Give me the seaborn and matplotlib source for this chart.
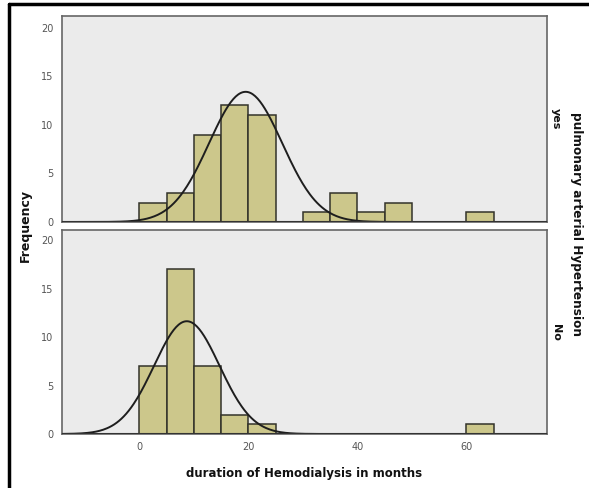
import numpy as np
import pandas as pd
import matplotlib
matplotlib.use("Agg")
import matplotlib.pyplot as plt
import seaborn as sns

# === DATI ===
bin_start = list(range(0, 65, 5))  # inizio di ogni classe (larghezza 5 mesi)
counts_yes = [2, 3, 9, 12, 11, 0, 1, 3, 1, 2, 0, 0, 1]
counts_no = [7, 17, 7, 2, 1, 0, 0, 0, 0, 0, 0, 0, 1]
groups = ["yes", "No"]

# parametri della curva normale (stimati dal grafico)
mean_yes, sd_yes = 19.5, 6.7
mean_no, sd_no = 8.7, 6.0

x_ticks = [0, 20, 40, 60]
y_ticks = [0, 5, 10, 15, 20]

BAR_COLOR = "#CCC78B"
BG_COLOR = "#EBEBEB"
EDGE = "#33332a"
BINW = 5

sns.set_style("white")
plt.rcParams["font.family"] = ["DejaVu Sans"]

fig = plt.figure(figsize=(5.89, 4.88), dpi=100)
ax_top = fig.add_axes([62 / 589, 1 - 222 / 488, 485 / 589, 206 / 488])
ax_bot = fig.add_axes([62 / 589, 1 - 434 / 488, 485 / 589, 204 / 488])

panels = [
    (ax_top, counts_yes, mean_yes, sd_yes, groups[0]),
    (ax_bot, counts_no, mean_no, sd_no, groups[1]),
]

for ax, counts, mu, sd, label in panels:
    df = pd.DataFrame({"mid": np.array(bin_start) + BINW / 2, "n": counts})
    sns.histplot(data=df, x="mid", weights="n", binwidth=BINW,
                 binrange=(0, bin_start[-1] + BINW), color=BAR_COLOR,
                 edgecolor=EDGE, linewidth=1.1, alpha=1.0, ax=ax)
    n = sum(counts)
    xs = np.linspace(-14, 75, 400)
    ys = n * BINW * np.exp(-0.5 * ((xs - mu) / sd) ** 2) / (sd * np.sqrt(2 * np.pi))
    sns.lineplot(x=xs, y=ys, color="#1e1e1e", linewidth=1.4, ax=ax)
    ax.axhline(0, color="#333333", linewidth=1.5, zorder=5)

    ax.set_facecolor(BG_COLOR)
    ax.set_xlim(-14.2, 74.8)
    ax.set_ylim(0, 21.2 if ax is ax_top else 21.05)
    ax.set_yticks(y_ticks)
    ax.set_xticks(x_ticks)
    ax.set_ylabel("")
    ax.set_xlabel("")
    ax.tick_params(axis="both", direction="out", length=4, width=1.2,
                   color="#333333", labelsize=7, labelcolor="#555555", pad=2)
    for side in ["left", "right", "top", "bottom"]:
        ax.spines[side].set_color("#666666")
        ax.spines[side].set_linewidth(1.2)
    ax.text(1.008, 0.5, label, transform=ax.transAxes, rotation=-90,
            ha="left", va="center", fontsize=8, fontweight="bold", color="#111111")

ax_top.tick_params(axis="x", bottom=False, labelbottom=False)

fig.text(0.5 + 10 / 589, 1 - 474 / 488, "duration of Hemodialysis in months",
         ha="center", va="center", fontsize=8.5, fontweight="bold", color="#111111")
fig.text(25 / 589, 1 - 226 / 488, "Frequency", rotation=90,
         ha="center", va="center", fontsize=9, fontweight="bold", color="#111111")
fig.text(576 / 589, 1 - 224 / 488, "pulmonary arterial Hypertension", rotation=-90,
         ha="center", va="center", fontsize=8.7, fontweight="bold", color="#111111")

# cornice esterna (solo sinistra e alto come nell'originale)
fig.add_artist(plt.Line2D([9 / 589, 9 / 589], [0, 1 - 4 / 488], color="black",
                          linewidth=2.5, transform=fig.transFigure))
fig.add_artist(plt.Line2D([9 / 589, 1], [1 - 4 / 488, 1 - 4 / 488], color="black",
                          linewidth=2.5, transform=fig.transFigure))

fig.savefig("out.png", dpi=100, facecolor="white")
